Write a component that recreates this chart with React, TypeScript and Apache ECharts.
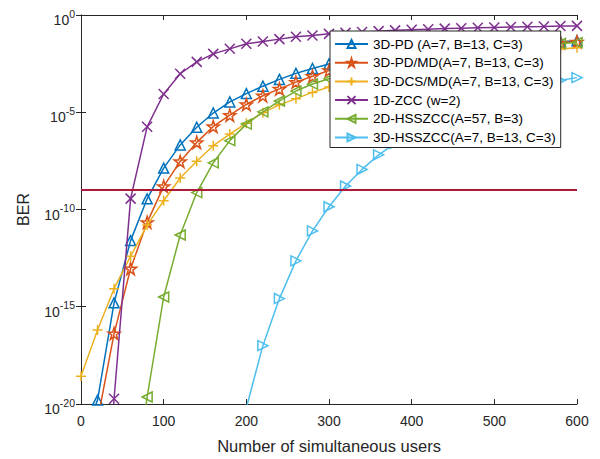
import React, { useEffect, useRef } from 'react';
import * as echarts from 'echarts';

// Number of simultaneous users (x)
const users = [0, 20, 40, 60, 80, 100, 120, 140, 160, 180, 200, 220, 240, 260, 280, 300,
  320, 340, 360, 380, 400, 420, 440, 460, 480, 500, 520, 540, 560, 580, 600];

// log10(BER) (null = not plotted)
const pd3d = [-22, -19.8, -14.8, -11.6, -9.45, -7.87, -6.68, -5.77, -5.04, -4.47, -4.04, -3.66, -3.31, -3.0, -2.75, -2.52,
  -2.33, -2.19, -2.07, -1.96, -1.87, -1.79, -1.72, -1.65, -1.59, -1.54, -1.49, -1.45, -1.41, -1.37, -1.33];
const pdmd3d = [null, -20.85, -16.38, -13.04, -10.66, -8.81, -7.53, -6.55, -5.73, -5.15, -4.6, -4.15, -3.8, -3.45, -3.15, -2.85,
  -2.66, -2.5, -2.35, -2.22, -2.1, -2.0, -1.9, -1.82, -1.74, -1.67, -1.6, -1.54, -1.48, -1.43, -1.38];
const dcsmd3d = [-18.57, -16.2, -14.07, -12.4, -10.8, -9.55, -8.38, -7.52, -6.72, -6.12, -5.56, -5.02, -4.62, -4.3, -3.98, -3.7,
  -3.45, -3.22, -3.02, -2.84, -2.68, -2.53, -2.4, -2.28, -2.17, -2.07, -1.98, -1.9, -1.82, -1.75, -1.68];
const zcc1d = [null, -35, -19.73, -9.44, -5.75, -4.06, -3.02, -2.41, -2.0, -1.74, -1.48, -1.36, -1.24, -1.12, -1.05, -0.97,
  -0.92, -0.87, -0.83, -0.79, -0.76, -0.73, -0.7, -0.68, -0.66, -0.64, -0.62, -0.6, -0.59, -0.57, -0.56];
const hsszcc2d = [null, null, null, -26, -19.64, -14.5, -11.31, -9.13, -7.6, -6.46, -5.61, -4.98, -4.42, -3.91, -3.55, -3.28,
  -3.02, -2.8, -2.6, -2.43, -2.28, -2.14, -2.02, -1.91, -1.81, -1.72, -1.64, -1.57, -1.51, -1.46, -1.42];
const hsszcc3d = [null, null, null, null, null, null, null, null, null, null, -20.2, -17.0, -14.58, -12.64, -11.1, -9.86,
  -8.79, -7.94, -7.19, -6.6, -6.07, -5.6, -5.18, -4.8, -4.47, -4.18, -3.92, -3.7, -3.52, -3.36, -3.22];

const seriesNames = [
  '3D-PD (A=7, B=13, C=3)',
  '3D-PD/MD(A=7, B=13, C=3)',
  '3D-DCS/MD(A=7, B=13, C=3)',
  '1D-ZCC (w=2)',
  '2D-HSSZCC(A=57, B=3)',
  '3D-HSSZCC(A=7, B=13, C=3)',
];
const seriesExps = [pd3d, pdmd3d, dcsmd3d, zcc1d, hsszcc2d, hsszcc3d];
const seriesColors = ['#0072BD', '#D95319', '#EDB120', '#7E2F8E', '#77AC30', '#4DBEEE'];
const seriesSymbols = [
  'path://M50,0L100,87L0,87Z',
  'path://M50,0L61.23,34.55L97.55,34.55L68.16,55.9L79.39,90.45L50,69.1L20.61,90.45L31.84,55.9L2.45,34.55L38.77,34.55Z',
  'path://M50,0L50,100M0,50L100,50',
  'path://M0,0L100,100M100,0L0,100',
  'path://M0,50L87,0L87,100Z',
  'path://M87,50L0,0L0,100Z',
];
const thresholdBER = 1e-9;
const xTicks = { min: 0, max: 600, interval: 100 };
// y axis: decades 10^-20 ... 10^0, labelled every 5 decades
const yRange = { min: 1e-20, max: 1, interval: 5 };

const FONT = 'Liberation Sans, Arial, Helvetica, sans-serif';
const AX = '#262626';

export default function App() {
  const ref = useRef<HTMLDivElement>(null);
  useEffect(() => {
    const chart = echarts.init(ref.current!, null, { renderer: 'svg' });
    const series: any[] = seriesNames.map((name, i) => ({
      name,
      type: 'line',
      data: users.map((u, j) => {
        const e = seriesExps[i][j];
        return e == null ? [u, '-'] : [u, Math.pow(10, e)];
      }),
      symbol: seriesSymbols[i],
      symbolSize: i === 1 ? 12 : 10,
      showAllSymbol: true,
      clip: true,
      lineStyle: { color: seriesColors[i], width: 1.5 },
      itemStyle: { color: 'rgba(255,255,255,0)', borderColor: seriesColors[i], borderWidth: 1.5 },
      color: seriesColors[i],
      emphasis: { disabled: true },
      z: 2 + i,
    }));
    series.push({
      name: 'threshold',
      type: 'line',
      data: [[xTicks.min, thresholdBER], [xTicks.max, thresholdBER]],
      symbol: 'none',
      lineStyle: { color: '#B0183A', width: 2 },
      z: 10,
    });
    const option: any = {
      animation: false,
      textStyle: { fontFamily: FONT },
      grid: { left: 81, right: 23, top: 15, bottom: 52, containLabel: false },
      legend: {
        data: seriesNames,
        orient: 'vertical',
        left: 330,
        top: 31,
        padding: [5, 5, 2, 4],
        itemWidth: 33,
        itemHeight: 10,
        itemGap: 2.7,
        backgroundColor: '#ffffff',
        borderColor: AX,
        borderWidth: 1,
        borderRadius: 0,
        textStyle: { fontFamily: FONT, fontSize: 13.5, color: '#000', lineHeight: 16 },
        z: 20,
      },
      xAxis: [
        {
          type: 'value', ...xTicks,
          name: 'Number of simultaneous users',
          nameLocation: 'middle', nameGap: 33,
          nameTextStyle: { fontSize: 16.5, color: AX, fontFamily: FONT },
          axisLine: { show: true, lineStyle: { color: AX, width: 1 } },
          axisTick: { show: true, inside: true, length: 5, lineStyle: { color: AX } },
          axisLabel: { fontSize: 14, color: AX, margin: 10, fontFamily: FONT },
          splitLine: { show: false },
        },
        {
          type: 'value', ...xTicks, position: 'top',
          axisLine: { show: true, lineStyle: { color: AX, width: 1 } },
          axisTick: { show: true, inside: true, length: 5, lineStyle: { color: AX } },
          axisLabel: { show: false },
          splitLine: { show: false },
        },
      ],
      yAxis: [
        {
          type: 'log', logBase: 10, ...yRange,
          name: 'BER', nameLocation: 'middle', nameGap: 50,
          nameTextStyle: { fontSize: 16, color: AX, fontFamily: FONT },
          axisLine: { show: true, lineStyle: { color: AX, width: 1 } },
          axisTick: { show: true, inside: true, length: 5, lineStyle: { color: AX } },
          minorTick: { show: false },
          splitLine: { show: false },
          axisLabel: {
            margin: 6,
            formatter: (v: number) => `{b|10}{s|${Math.round(Math.log10(v))}}`,
            rich: {
              b: { fontSize: 14, color: AX, fontFamily: FONT, lineHeight: 24, verticalAlign: 'bottom' },
              s: { fontSize: 10.5, color: AX, fontFamily: FONT, lineHeight: 11, verticalAlign: 'bottom', padding: [0, 0, 8, 0] },
            },
          },
        },
        {
          type: 'log', logBase: 10, ...yRange, position: 'right',
          axisLine: { show: true, lineStyle: { color: AX, width: 1 } },
          axisTick: { show: true, inside: true, length: 5, lineStyle: { color: AX } },
          axisLabel: { show: false },
          splitLine: { show: false },
        },
      ],
      series,
    };
    chart.setOption(option);
    return () => chart.dispose();
  }, []);
  return <div ref={ref} style={{ position: 'fixed', left: 0, top: 0, width: 600, height: 459, background: '#fff' }} />;
}
